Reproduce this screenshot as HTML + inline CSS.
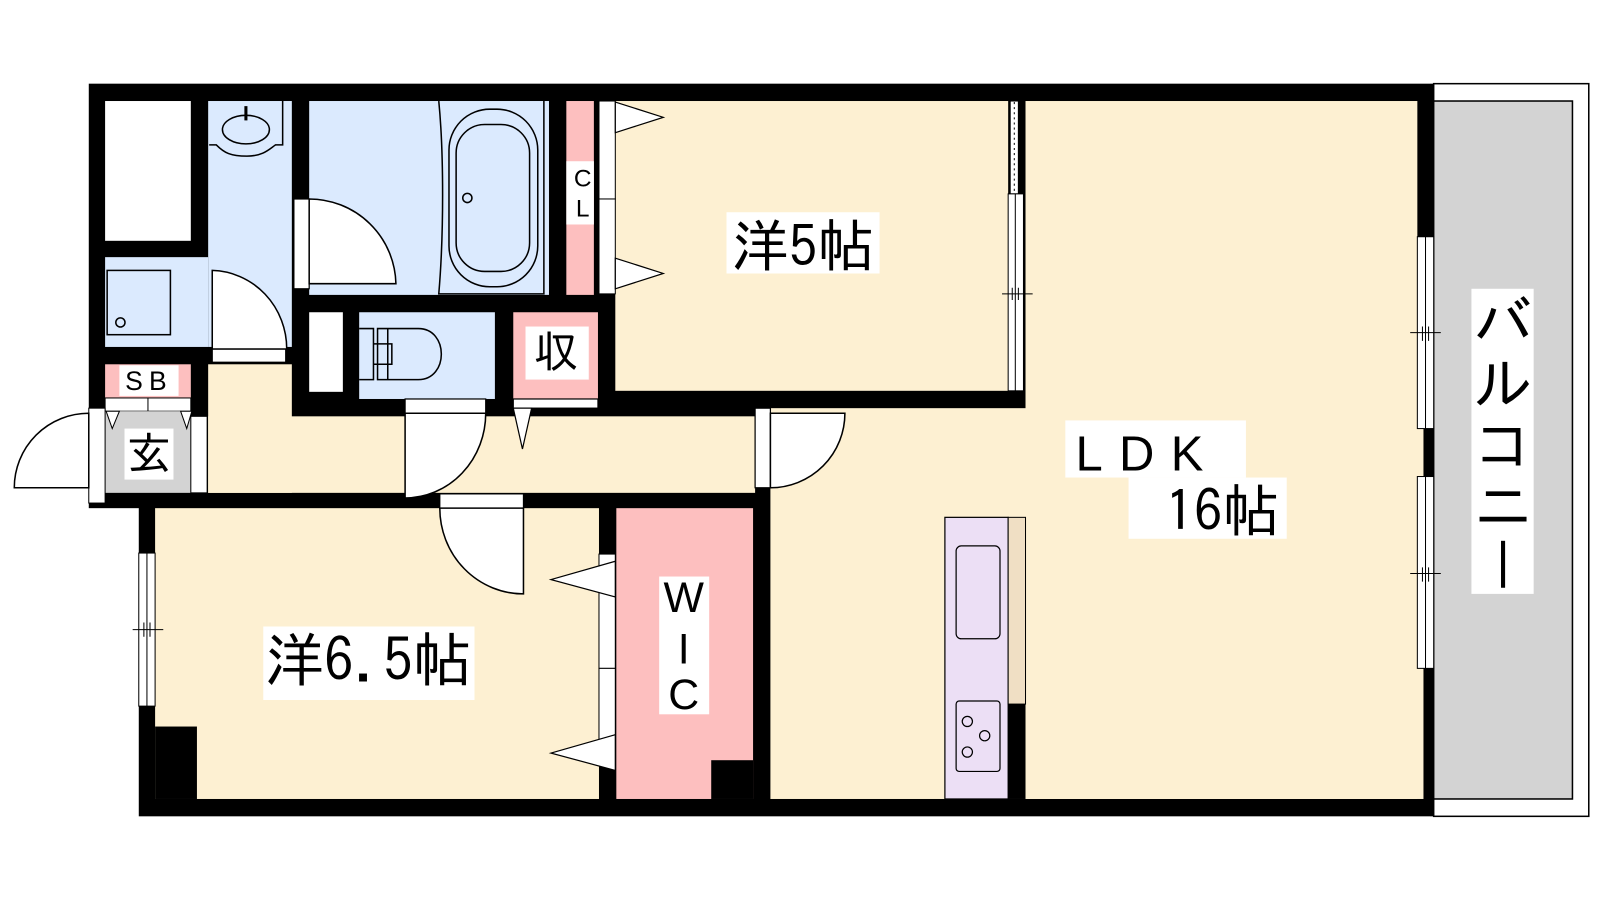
<!DOCTYPE html>
<html><head><meta charset="utf-8"><style>
html,body{margin:0;padding:0;background:#fff;width:1600px;height:900px;overflow:hidden}
svg{display:block}
text{font-family:"IPAGothic","Liberation Sans","Noto Sans CJK JP",sans-serif}
.l{font-family:"Liberation Sans","IPAGothic",sans-serif}
</style></head><body>
<svg width="1600" height="900" viewBox="0 0 1568 882" preserveAspectRatio="none" xmlns="http://www.w3.org/2000/svg">
<!-- balcony -->
<rect x="1405" y="82" width="152" height="718" fill="#fff" stroke="#000" stroke-width="1.5"/>
<rect x="1405" y="99" width="136" height="684" fill="#d3d3d3" stroke="#000" stroke-width="1.5"/>
<rect x="1442" y="283" width="61" height="299" fill="#fff"/>
<text x="1473" y="337" font-size="58" text-anchor="middle">バ</text>
<text x="1473" y="397" font-size="58" text-anchor="middle">ル</text>
<text x="1473" y="457" font-size="58" text-anchor="middle">コ</text>
<text x="1473" y="517" font-size="58" text-anchor="middle">ニ</text>
<rect x="1471" y="530" width="4" height="46" fill="#000"/>

<!-- floors -->
<rect x="87" y="82" width="1318" height="416" fill="#000"/>
<rect x="136" y="483" width="1269" height="317" fill="#000"/>
<rect x="1005" y="99" width="384" height="684" fill="#fdf0d2"/>
<rect x="755" y="400" width="640" height="383" fill="#fdf0d2"/>
<rect x="603" y="99" width="385" height="284" fill="#fdf0d2"/>
<rect x="204" y="357" width="82" height="126" fill="#fdf0d2"/>
<rect x="204" y="408" width="536" height="75" fill="#fdf0d2"/>
<rect x="152" y="498" width="435" height="285" fill="#fdf0d2"/>
<rect x="152" y="712" width="41" height="71" fill="#000"/>
<!-- WIC -->
<rect x="604" y="498" width="134" height="285" fill="#fdbfbf"/>
<rect x="697" y="745" width="41" height="38" fill="#000"/>
<rect x="646" y="565" width="49" height="135" fill="#fff"/>
<text x="670" y="600" font-size="42" text-anchor="middle" class="l">W</text>
<text x="670" y="650" font-size="42" text-anchor="middle" class="l">I</text>
<text x="670" y="695" font-size="42" text-anchor="middle" class="l">C</text>

<!-- top-left closet -->
<rect x="103" y="99" width="84" height="137" fill="#fff"/>
<!-- wash -->
<rect x="204" y="99" width="82" height="241" fill="#dbeafe"/>
<rect x="103" y="252" width="101" height="88" fill="#dbeafe"/>
<rect x="105" y="265" width="62" height="63" fill="none" stroke="#000" stroke-width="1.5"/>
<circle cx="118" cy="316" r="4.5" fill="none" stroke="#000" stroke-width="1.5"/>
<path d="M205 142 L212 142 C220 150 226 153 242 153 C258 153 264 146 270 142 L277 142 L277 99" fill="none" stroke="#000" stroke-width="1.5"/>
<ellipse cx="241" cy="127" rx="23" ry="14" fill="none" stroke="#000" stroke-width="1.5"/>
<line x1="241" y1="104" x2="241" y2="118" stroke="#000" stroke-width="3"/>
<!-- wash door -->
<rect x="208" y="342" width="72" height="13" fill="#fff" stroke="#000" stroke-width="1.2"/>
<path d="M208 342 L208 265 A75 77 0 0 1 281 342 Z" fill="#fff" stroke="#000" stroke-width="1.5"/>
<!-- SB -->
<rect x="103" y="357" width="84" height="33" fill="#fdbfbf"/>
<rect x="117" y="358" width="58" height="30" fill="#fff"/>
<text x="146" y="382" font-size="26" text-anchor="middle" letter-spacing="6" class="l">SB</text>
<rect x="103" y="390" width="84" height="13" fill="#fff" stroke="#000" stroke-width="1"/>
<line x1="145" y1="390" x2="145" y2="403" stroke="#000"/>
<!-- genkan -->
<rect x="103" y="403" width="84" height="80" fill="#d3d3d3"/>
<path d="M104 403 L110 420 L117 403 Z M177 403 L183 420 L188 403 Z" fill="#fff" stroke="#000" stroke-width="1"/>
<rect x="122" y="420" width="48" height="50" fill="#fff"/>
<text x="146" y="460" font-size="44" text-anchor="middle">玄</text>
<rect x="187" y="408" width="16" height="75" fill="#fff" stroke="#000" stroke-width="1"/>
<rect x="87" y="400" width="16" height="93" fill="#fff" stroke="#000" stroke-width="1"/>
<path d="M87 478 L14 478 A73 73 0 0 1 87 405 Z" fill="#fff" stroke="#000" stroke-width="1.5"/>

<!-- bath -->
<rect x="303" y="99" width="235" height="190" fill="#dbeafe"/>
<path d="M430 99 C435 150 435 230 430 288 L533 288 L533 99" fill="none" stroke="#000" stroke-width="1.5"/>
<rect x="440" y="107" width="87" height="174" rx="40" fill="none" stroke="#000" stroke-width="1.5"/>
<rect x="447" y="122" width="72" height="144" rx="28" fill="none" stroke="#000" stroke-width="1.5"/>
<circle cx="458" cy="194" r="4.5" fill="none" stroke="#000" stroke-width="1.5"/>
<rect x="288" y="195" width="15" height="88" fill="#fff" stroke="#000" stroke-width="1.2"/>
<path d="M303 195 A85 85 0 0 1 388 278 L303 278 Z" fill="#fff" stroke="#000" stroke-width="1.5"/>
<!-- CL -->
<rect x="555" y="99" width="27" height="190" fill="#fdbfbf"/>
<rect x="555" y="158" width="27" height="62" fill="#fff"/>
<text x="571" y="183" font-size="24" text-anchor="middle" class="l">C</text>
<text x="571" y="212" font-size="24" text-anchor="middle" class="l">L</text>
<rect x="587" y="99" width="16" height="96" fill="#fff" stroke="#000" stroke-width="1"/>
<rect x="587" y="195" width="16" height="93" fill="#fff" stroke="#000" stroke-width="1"/>
<path d="M603 100 L650 115 L603 130 Z M603 253 L650 268 L603 283 Z" fill="#fff" stroke="#000" stroke-width="1.2"/>
<!-- small closet + toilet + storage -->
<rect x="303" y="306" width="33" height="78" fill="#fff"/>
<rect x="352" y="306" width="133" height="85" fill="#dbeafe"/>
<path d="M352 322 L366 322 L366 372 L352 372 M370 322 L380 322 L380 372 L370 372 Z M380 322 L410 322 C440 322 440 372 410 372 L380 372 M366 337 L384 337 L384 357 L366 357" fill="none" stroke="#000" stroke-width="1.5"/>
<rect x="503" y="306" width="83" height="85" fill="#fdbfbf"/>
<rect x="515" y="320" width="62" height="52" fill="#fff"/>
<text x="545" y="360" font-size="44" text-anchor="middle">収</text>
<rect x="397" y="391" width="79" height="14" fill="#fff" stroke="#000" stroke-width="1.2"/>
<path d="M397 405 L397 488 A79 83 0 0 0 476 405 Z" fill="#fff" stroke="#000" stroke-width="1.5"/>
<rect x="503" y="391" width="83" height="9" fill="#fff" stroke="#000" stroke-width="1.2"/>
<path d="M503 400 L512 440 L521 400 Z" fill="#fff" stroke="#000" stroke-width="1.2"/>

<!-- 洋5 right wall window -->
<rect x="990" y="99" width="8" height="91" fill="#fff" stroke="#000" stroke-width="1"/>
<line x1="994" y1="100" x2="994" y2="190" stroke="#000" stroke-dasharray="2,3"/>
<rect x="988" y="190" width="15" height="193" fill="#fff" stroke="#000" stroke-width="1"/>
<line x1="995" y1="190" x2="995" y2="383" stroke="#000"/>
<path d="M982 288 L1012 288 M992 282 L992 294 M998 282 L998 294" stroke="#000" stroke-width="1"/>
<rect x="712" y="208" width="150" height="60" fill="#fff"/>
<text x="787" y="261" font-size="56" text-anchor="middle">洋5帖</text>

<!-- LDK door -->
<rect x="740" y="400" width="15" height="78" fill="#fff" stroke="#000" stroke-width="1.2"/>
<path d="M755 405 L828 405 A73 73 0 0 1 755 478 Z" fill="#fff" stroke="#000" stroke-width="1.5"/>

<!-- 6.5 door & window -->
<rect x="431" y="484" width="82" height="14" fill="#fff" stroke="#000" stroke-width="1.2"/>
<path d="M513 498 L513 582 A82 84 0 0 1 431 498 Z" fill="#fff" stroke="#000" stroke-width="1.5"/>
<rect x="136" y="542" width="16" height="150" fill="#fff" stroke="#000" stroke-width="1"/>
<line x1="144" y1="542" x2="144" y2="692" stroke="#000"/>
<path d="M130 617 L160 617 M141 610 L141 624 M147 610 L147 624" stroke="#000"/>
<rect x="587" y="543" width="16" height="112" fill="#fff" stroke="#000" stroke-width="1"/>
<rect x="587" y="655" width="16" height="87" fill="#fff" stroke="#000" stroke-width="1"/>
<path d="M603 550 L540 568 L603 585 Z M603 720 L540 738 L603 755 Z" fill="#fff" stroke="#000" stroke-width="1.2"/>
<rect x="258" y="614" width="207" height="72" fill="#fff"/>
<text x="361" y="668" font-size="58" text-anchor="middle">洋6.5帖</text>

<!-- kitchen -->
<rect x="926" y="507" width="62" height="276" fill="#ecdff5" stroke="#000" stroke-width="1.2"/>
<rect x="988" y="507" width="17" height="183" fill="#f0dfc4" stroke="#000" stroke-width="1"/>
<rect x="988" y="690" width="17" height="93" fill="#000"/>
<rect x="937" y="535" width="43" height="91" rx="5" fill="none" stroke="#000" stroke-width="1.2"/>
<rect x="937" y="687" width="43" height="69" rx="3" fill="none" stroke="#000" stroke-width="1.2"/>
<circle cx="948" cy="707" r="5" fill="none" stroke="#000" stroke-width="1.2"/>
<circle cx="965" cy="721" r="5" fill="none" stroke="#000" stroke-width="1.2"/>
<circle cx="948" cy="737" r="5" fill="none" stroke="#000" stroke-width="1.2"/>

<!-- LDK label -->
<rect x="1044" y="412" width="177" height="56" fill="#fff"/>
<text x="1054" y="461" font-size="48" letter-spacing="16" class="l">LDK</text>
<rect x="1106" y="468" width="155" height="60" fill="#fff"/>
<text x="1198" y="521" font-size="56" text-anchor="middle">16帖</text>

<!-- right windows -->
<rect x="1389" y="232" width="16" height="188" fill="#fff" stroke="#000" stroke-width="1"/>
<line x1="1397" y1="232" x2="1397" y2="420" stroke="#000"/>
<rect x="1389" y="467" width="16" height="188" fill="#fff" stroke="#000" stroke-width="1"/>
<line x1="1397" y1="467" x2="1397" y2="655" stroke="#000"/>
<path d="M1382 326 L1412 326 M1394 320 L1394 334 M1400 320 L1400 334 M1382 562 L1412 562 M1394 556 L1394 570 M1400 556 L1400 570" stroke="#000"/>
</svg>
</body></html>
